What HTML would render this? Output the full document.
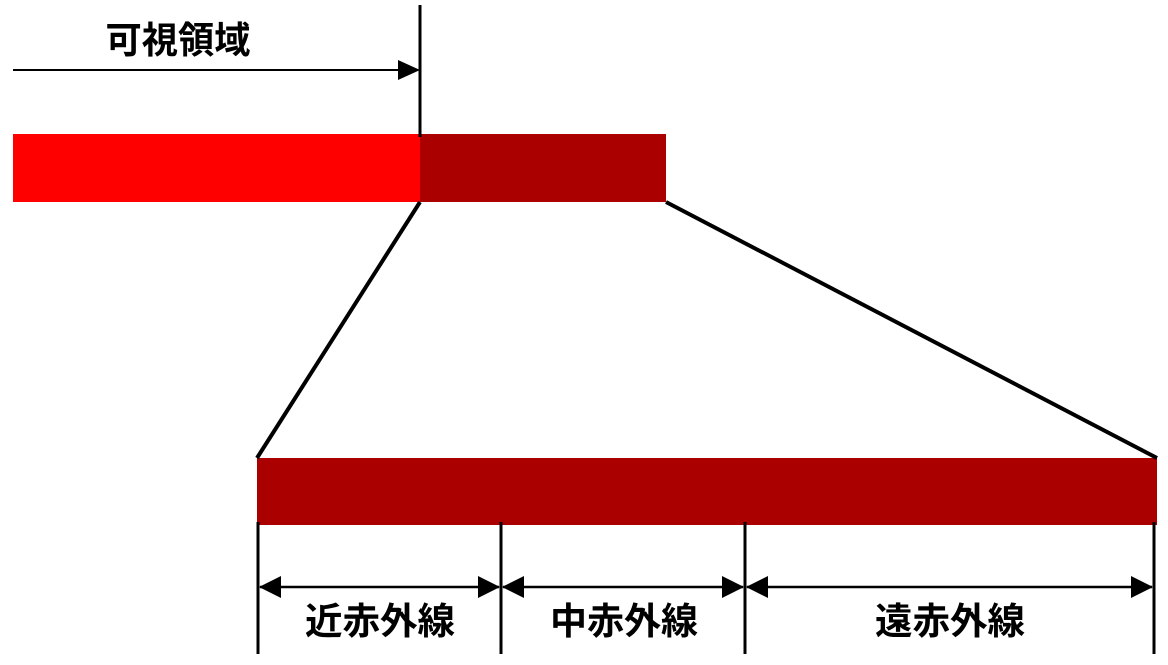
<!DOCTYPE html>
<html><head><meta charset="utf-8"><style>body{margin:0;background:#fff}</style></head><body>
<svg width="1168" height="660" xmlns="http://www.w3.org/2000/svg" font-family="'Liberation Sans','Noto Sans CJK JP',sans-serif" font-weight="bold" font-size="37">
<rect x="13" y="134" width="407" height="68" fill="#ff0000"/>
<rect x="420" y="134" width="246" height="68" fill="#aa0000"/>
<rect x="257" y="458" width="900" height="67" fill="#aa0000"/>
<line x1="420" y1="5" x2="420" y2="137" stroke="#000" stroke-width="3"/>
<line x1="13" y1="70" x2="400" y2="70" stroke="#000" stroke-width="2"/>
<polygon points="420,70 398,60 398,80" fill="#000"/>
<text x="178" y="53" text-anchor="middle" textLength="145" lengthAdjust="spacingAndGlyphs">可視領域</text>
<line x1="420" y1="202" x2="257" y2="458" stroke="#000" stroke-width="4"/>
<line x1="666" y1="202" x2="1157" y2="458" stroke="#000" stroke-width="4"/>
<g stroke="#000" stroke-width="3">
<line x1="258" y1="522" x2="258" y2="654"/>
<line x1="501" y1="522" x2="501" y2="654"/>
<line x1="745" y1="522" x2="745" y2="654"/>
<line x1="1154" y1="522" x2="1154" y2="654"/>
</g>
<g stroke="#000" stroke-width="2.5">
<line x1="260" y1="587" x2="499" y2="587"/>
<line x1="503" y1="587" x2="743" y2="587"/>
<line x1="747" y1="587" x2="1152" y2="587"/>
</g>
<g fill="#000">
<polygon points="259,587 281,576 281,598"/>
<polygon points="500,587 478,576 478,598"/>
<polygon points="502,587 524,576 524,598"/>
<polygon points="744,587 722,576 722,598"/>
<polygon points="746,587 768,576 768,598"/>
<polygon points="1153,587 1131,576 1131,598"/>
</g>
<text x="380" y="634" text-anchor="middle" textLength="150" lengthAdjust="spacingAndGlyphs">近赤外線</text>
<text x="624" y="634" text-anchor="middle" textLength="148" lengthAdjust="spacingAndGlyphs">中赤外線</text>
<text x="950" y="634" text-anchor="middle" textLength="150" lengthAdjust="spacingAndGlyphs">遠赤外線</text>
</svg>
</body></html>
